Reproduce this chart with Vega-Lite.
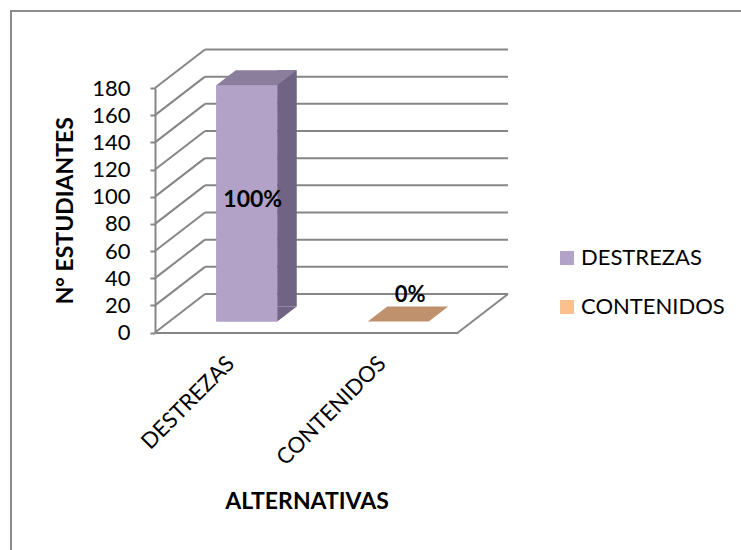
{
  "$schema": "https://vega.github.io/schema/vega-lite/v6.json",
  "width": 740,
  "height": 545,
  "autosize": {"type": "none"},
  "padding": {"left": 11, "top": 11, "right": 0, "bottom": 0},
  "background": "white",
  "config": {
    "font": "Lato",
    "view": {"stroke": "#8c8c8c", "strokeWidth": 2}
  },
  "datasets": {
    "alternativas": [
      {"alternativa": "DESTREZAS", "estudiantes": 174, "porcentaje": "100%"},
      {"alternativa": "CONTENIDOS", "estudiantes": 0, "porcentaje": "0%"}
    ],
    "escala": [
      {"v": 0}, {"v": 20}, {"v": 40}, {"v": 60}, {"v": 80},
      {"v": 100}, {"v": 120}, {"v": 140}, {"v": 160}, {"v": 180}
    ]
  },
  "resolve": {"scale": {"fill": "independent"}},
  "layer": [
    {
      "description": "front faces of the columns, with the axes and the legend",
      "data": {"name": "alternativas"},
      "mark": {"type": "bar", "width": 61, "xOffset": 16, "yOffset": -11, "y2Offset": -11},
      "encoding": {
        "x": {
          "field": "alternativa", "type": "nominal", "sort": null,
          "scale": {"domain": ["DESTREZAS", "CONTENIDOS"], "range": [144, 447], "paddingInner": 0, "paddingOuter": 0},
          "axis": {
            "title": "ALTERNATIVAS", "titleFontSize": 23, "titleFontWeight": "bold", "titleColor": "black",
            "titleY": 168.5, "titleBaseline": "middle",
            "offset": -223.5, "labelAngle": -45, "labelAlign": "right", "labelBaseline": "middle",
            "labelFontSize": 22, "labelColor": "black", "labelPadding": 27,
            "ticks": false, "domainColor": "#868686", "domainWidth": 2, "grid": false
          }
        },
        "y": {
          "field": "estudiantes", "type": "quantitative",
          "scale": {"domain": [0, 180], "range": [321.5, 77], "nice": false},
          "axis": {
            "title": "N° ESTUDIANTES", "titleFontSize": 23, "titleFontWeight": "bold", "titleColor": "black",
            "titleX": -90, "titleY": 199.25, "titleBaseline": "middle", "titleAlign": "center",
            "offset": -144, "values": [0, 20, 40, 60, 80, 100, 120, 140, 160, 180],
            "labelFontSize": 22, "labelColor": "black", "labelPadding": 20, "labelOverlap": false,
            "tickSize": 5, "tickColor": "#868686", "tickWidth": 2,
            "domainColor": "#868686", "domainWidth": 2, "grid": false
          }
        },
        "y2": {"datum": 0},
        "color": {
          "field": "alternativa", "type": "nominal", "sort": null,
          "scale": {"domain": ["DESTREZAS", "CONTENIDOS"], "range": ["#b3a2c7", "#fac090"]},
          "legend": {
            "title": null, "orient": "none", "legendX": 545, "legendY": 236,
            "symbolType": "square", "symbolSize": 196, "symbolStrokeWidth": 0,
            "labelFontSize": 22, "labelColor": "black", "labelOffset": 3,
            "rowPadding": 27, "padding": 0
          }
        }
      }
    },
    {
      "description": "back wall gridlines",
      "data": {"name": "escala"},
      "mark": {"type": "rule", "color": "#868686", "strokeWidth": 2, "xOffset": -25.75, "x2Offset": 125.75, "yOffset": -38.5, "y2Offset": -38.5},
      "encoding": {
        "x": {"datum": "DESTREZAS", "type": "nominal"},
        "x2": {"datum": "CONTENIDOS"},
        "y": {"field": "v", "type": "quantitative"},
        "y2": {"field": "v"}
      }
    },
    {
      "description": "side wall diagonals",
      "data": {"name": "escala"},
      "mark": {"type": "rule", "color": "#868686", "strokeWidth": 2, "xOffset": -75.75, "x2Offset": -25.75, "y2Offset": -38.5},
      "encoding": {
        "x": {"datum": "DESTREZAS", "type": "nominal"},
        "x2": {"datum": "DESTREZAS"},
        "y": {"field": "v", "type": "quantitative"},
        "y2": {"field": "v"}
      }
    },
    {
      "description": "floor right edge",
      "data": {"name": "escala"},
      "transform": [{"filter": "datum.v == 0"}],
      "mark": {"type": "rule", "color": "#868686", "strokeWidth": 2, "xOffset": 75.75, "x2Offset": 125.75, "y2Offset": -38.5},
      "encoding": {
        "x": {"datum": "CONTENIDOS", "type": "nominal"},
        "x2": {"datum": "CONTENIDOS"},
        "y": {"field": "v", "type": "quantitative"},
        "y2": {"field": "v"}
      }
    },
    {
      "description": "front faces drawn again above the gridlines",
      "data": {"name": "alternativas"},
      "mark": {"type": "bar", "width": 61, "xOffset": 16, "yOffset": -11, "y2Offset": -11},
      "encoding": {
        "x": {"field": "alternativa", "type": "nominal", "sort": null},
        "y": {"field": "estudiantes", "type": "quantitative"},
        "y2": {"datum": 0},
        "color": {"field": "alternativa", "type": "nominal", "sort": null}
      }
    },
    {
      "description": "side faces of the columns",
      "data": {"name": "alternativas"},
      "transform": [{"filter": "datum.estudiantes > 0"}],
      "mark": {"type": "bar", "width": 19.5, "xOffset": 56.25, "yOffset": -26, "y2Offset": -26},
      "encoding": {
        "x": {"field": "alternativa", "type": "nominal", "sort": null},
        "y": {"field": "estudiantes", "type": "quantitative"},
        "y2": {"datum": 0},
        "fill": {
          "field": "alternativa", "type": "nominal",
          "scale": {"domain": ["DESTREZAS", "CONTENIDOS"], "range": ["#706383", "#a07a5c"]},
          "legend": null
        }
      }
    },
    {
      "description": "lower corner of the side faces",
      "data": {"name": "alternativas"},
      "transform": [{"filter": "datum.estudiantes > 0"}],
      "mark": {"type": "point", "shape": "M0,0 L0,-15 L19.5,-15 Z", "size": 4, "filled": true, "opacity": 1, "strokeWidth": 0, "xOffset": 46.5, "yOffset": -11},
      "encoding": {
        "x": {"field": "alternativa", "type": "nominal", "sort": null},
        "y": {"datum": 0, "type": "quantitative"},
        "fill": {
          "field": "alternativa", "type": "nominal",
          "scale": {"domain": ["DESTREZAS", "CONTENIDOS"], "range": ["#706383", "#a07a5c"]},
          "legend": null
        }
      }
    },
    {
      "description": "top faces of the columns",
      "data": {"name": "alternativas"},
      "mark": {"type": "point", "shape": "M0,0 L61,0 L80.5,-15 L19.5,-15 Z", "size": 4, "filled": true, "opacity": 1, "strokeWidth": 0, "xOffset": -14.5, "yOffset": -11},
      "encoding": {
        "x": {"field": "alternativa", "type": "nominal", "sort": null},
        "y": {"field": "estudiantes", "type": "quantitative"},
        "fill": {
          "field": "alternativa", "type": "nominal",
          "scale": {"domain": ["DESTREZAS", "CONTENIDOS"], "range": ["#8b7d9c", "#bf916d"]},
          "legend": null
        }
      }
    },
    {
      "description": "percentage inside the column",
      "data": {"name": "alternativas"},
      "transform": [{"filter": "datum.estudiantes > 0"}],
      "mark": {"type": "text", "fontSize": 23, "fontWeight": "bold", "color": "black", "baseline": "middle", "xOffset": 22, "yOffset": 104},
      "encoding": {
        "x": {"field": "alternativa", "type": "nominal", "sort": null},
        "y": {"field": "estudiantes", "type": "quantitative"},
        "text": {"field": "porcentaje"}
      }
    },
    {
      "description": "percentage above an empty column",
      "data": {"name": "alternativas"},
      "transform": [{"filter": "datum.estudiantes == 0"}],
      "mark": {"type": "text", "fontSize": 22, "fontWeight": "bold", "color": "black", "baseline": "middle", "xOffset": 28, "yOffset": -38},
      "encoding": {
        "x": {"field": "alternativa", "type": "nominal", "sort": null},
        "y": {"field": "estudiantes", "type": "quantitative"},
        "text": {"field": "porcentaje"}
      }
    }
  ]
}
